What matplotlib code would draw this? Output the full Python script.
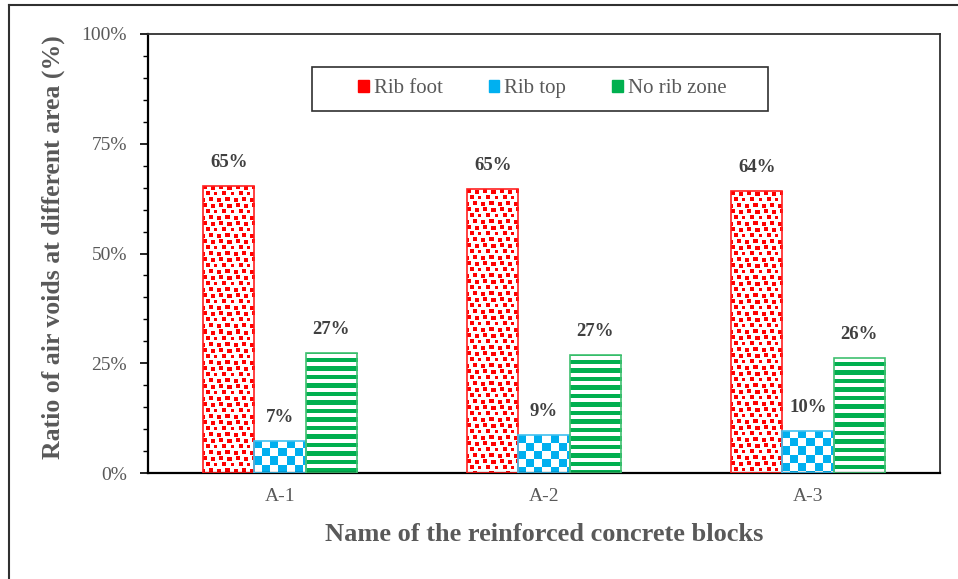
import numpy as np
import matplotlib
matplotlib.use("Agg")
import matplotlib.pyplot as plt
from matplotlib.patches import Patch, Rectangle
from matplotlib.lines import Line2D
from matplotlib.ticker import MultipleLocator, PercentFormatter

# ----------------------------------------------------
# Data (in %)
# ----------------------------------------------------
blocks = ["A-1", "A-2", "A-3"]
series_names = ["Rib foot", "Rib top", "No rib zone"]
rib_foot = [65.4, 64.6, 64.2]
rib_top = [7.3, 8.6, 9.6]
no_rib_zone = [27.3, 26.8, 26.2]

RED = (1.0, 0.0, 0.0)
BLUE = (0.0, 0.69, 0.94)
GREEN = (0.0, 0.69, 0.31)
TEXT_GREY = "#595959"
LABEL_GREY = "#404040"

plt.rcParams["font.family"] = ["Liberation Serif", "DejaVu Serif"]


# ----------------------------------------------------
# Fill textures (Excel-like pattern fills)
# ----------------------------------------------------
def confetti(h, w):
    th, tw = 18, 16
    tile = np.ones((th, tw, 3))
    # (row, col, size) of the red specks in one tile, staggered rows
    spots = [(0, 0, 4), (1, 8, 4), (6, 3, 4), (7, 11, 3),
             (12, 6, 4), (13, 14, 4)]
    for r, c, s in spots:
        for dr in range(s):
            for dc in range(s):
                tile[(r + dr) % th, (c + dc) % tw] = RED
    reps = (h // th + 1, w // tw + 1, 1)
    return np.tile(tile, reps)[:h, :w]


def checker(h, w, size=8):
    rows, cols = np.mgrid[0:h, 0:w]
    mask = ((rows // size + cols // size) % 2) == 0
    arr = np.ones((h, w, 3))
    arr[mask] = BLUE
    return arr


def stripes(h, w, period=8.5, thick=4.3):
    rows = np.arange(h)
    mask = ((rows + period - thick) % period) < thick
    arr = np.ones((h, w, 3))
    arr[mask, :] = GREEN
    return arr


# ----------------------------------------------------
# Figure
# ----------------------------------------------------
fig = plt.figure(figsize=(9.58, 5.79), dpi=100)
ax = fig.add_axes([148 / 958, 106 / 579, 792 / 958, 439 / 579])
ax.set_xlim(-0.5, 2.5)
ax.set_ylim(0, 100)

x = np.arange(len(blocks))
width = 0.194
offsets = [-width, 0, width]
values = [rib_foot, rib_top, no_rib_zone]
edges = ["#FF2020", "#40C0F0", "#40C070"]
textures = [confetti, checker, stripes]

for vals, off, ec, tex in zip(values, offsets, edges, textures):
    bars = ax.bar(x + off, vals, width, facecolor="none", edgecolor=ec,
                  linewidth=1.2, zorder=3)
    for bar, v in zip(bars, vals):
        x0, x1 = bar.get_x(), bar.get_x() + bar.get_width()
        p0 = ax.transData.transform((x0, 0))
        p1 = ax.transData.transform((x1, v))
        w_px = max(int(round(p1[0] - p0[0])), 1)
        h_px = max(int(round(p1[1] - p0[1])), 1)
        im = ax.imshow(tex(h_px, w_px), extent=(x0, x1, 0, v), origin="upper",
                       interpolation="nearest", aspect="auto", zorder=2)
        im.set_clip_path(bar)
        ax.annotate(f"{v:.0f}%", (bar.get_x() + bar.get_width() / 2, v),
                    xytext=(0, 17), textcoords="offset points",
                    ha="center", va="center", fontsize=13.5, fontweight="bold",
                    color=LABEL_GREY)

ax.set_xlim(-0.5, 2.5)
ax.set_ylim(0, 100)

# ----------------------------------------------------
# Axes styling
# ----------------------------------------------------
ax.set_xticks(x)
ax.set_xticklabels(blocks)
ax.yaxis.set_major_locator(MultipleLocator(25))
ax.yaxis.set_minor_locator(MultipleLocator(5))
ax.yaxis.set_major_formatter(PercentFormatter(decimals=0))
ax.tick_params(axis="x", length=0, pad=11, labelsize=14, labelcolor=TEXT_GREY)
ax.tick_params(axis="y", which="major", direction="out", length=6, width=1.2,
               pad=9, labelsize=14, labelcolor=TEXT_GREY)
ax.tick_params(axis="y", which="minor", direction="out", length=3.5, width=1.0)

for side in ["left", "bottom"]:
    ax.spines[side].set_color("black")
    ax.spines[side].set_linewidth(1.6)
for side in ["top", "right"]:
    ax.spines[side].set_color("#303030")
    ax.spines[side].set_linewidth(1.3)

ax.set_xlabel("Name of the reinforced concrete blocks", fontsize=19,
              fontweight="bold", color=TEXT_GREY, labelpad=13)
ax.set_ylabel("Ratio of air voids at different area (%)", fontsize=18.5,
              fontweight="bold", color=TEXT_GREY, labelpad=12)
ax.yaxis.label.set_y(0.515)

# ----------------------------------------------------
# Legend (framed box drawn separately)
# ----------------------------------------------------
handles = [Patch(facecolor=RED, edgecolor=RED),
           Patch(facecolor=BLUE, edgecolor=BLUE),
           Patch(facecolor=GREEN, edgecolor=GREEN)]
ax.legend(handles, series_names, loc="center", bbox_to_anchor=(0.498, 0.875),
          ncol=3, frameon=False, fontsize=15, handlelength=0.5,
          handleheight=0.5, handletextpad=0.25, columnspacing=2.2,
          labelcolor=TEXT_GREY)
ax.add_patch(Rectangle((0.207, 0.825), 0.576, 0.1, transform=ax.transAxes,
                       facecolor="none", edgecolor="#303030", linewidth=1.2,
                       zorder=4))

# outer border of the exported chart
fig.add_artist(Line2D([9 / 958, 9 / 958], [0, 1 - 5 / 579], color="#303030",
                      linewidth=1.5))
fig.add_artist(Line2D([9 / 958, 1], [1 - 5 / 579, 1 - 5 / 579], color="#303030",
                      linewidth=1.5))

fig.savefig("out.png", dpi=100)
